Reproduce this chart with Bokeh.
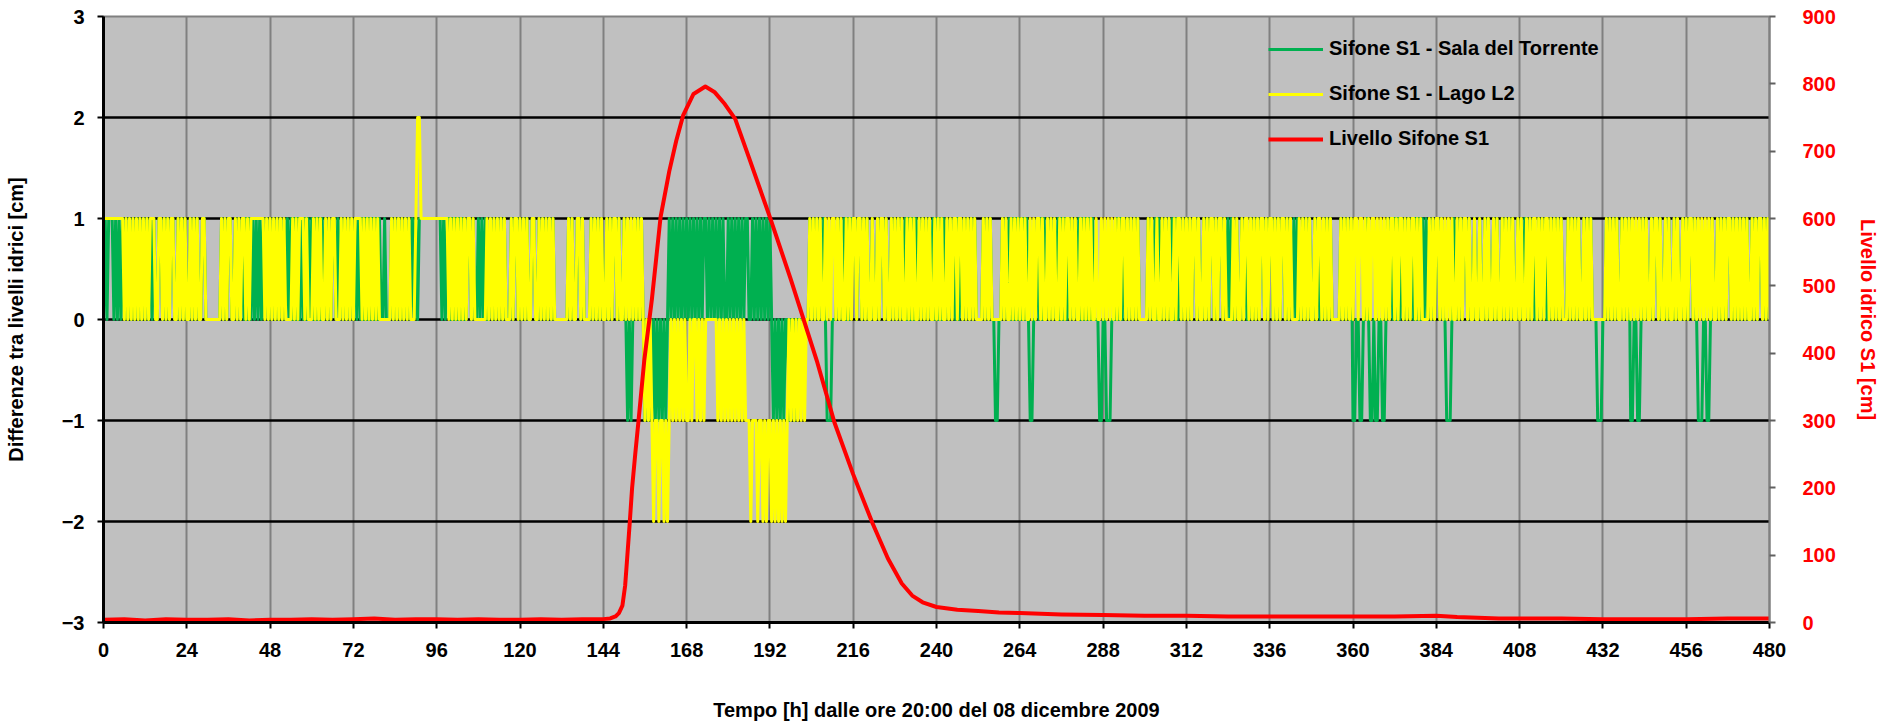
from bokeh.plotting import figure
from bokeh.models import Range1d, LinearAxis, FixedTicker, Legend, LegendItem
from bokeh.embed import file_html
from bokeh.resources import INLINE

FONT = "Liberation Sans"

# ---------------- data ----------------
x_ticks = list(range(0, 481, 24))
left_ticks = [-3, -2, -1, 0, 1, 2, 3]
grid_y = [-2, -1, 0, 1, 2]
right_ticks = list(range(0, 901, 100))

SAMPLE_STEP_H = 0.5          # one character = one reading every 30 minutes
CODE = {"A": -2, "B": -1, "0": 0, "1": 1, "2": 2}

# Sifone S1 - Sala del Torrente (difference, cm), one string per 24 h
sala_torrente = [
    "010111010101" "0101010101010101" "01" "001101" "01011001" "0101",
    "0010" "1010" "0110" "00000000" "1010" "1100" "1010101010" "1010101" "010",
    "1010101010" "1010" "1010" "10" "101" "01" "010101" "01" "0101" "10" "10" "1010101",
    "01010" "10101010101" "001000" "101010101010" "10" "1011" "11111111",
    "1110101" "1010101010" "0110100" "10101" "0" "0101010101" "000" "10110",
    "101010" "011001" "01010101" "00000000" "1010" "0110" "10" "000" "1010101",
    "0010" "101" "10" "10" "01" "0" "B0B0" "101010" "B0B0B0B0B0B0B" "01010101010",
    "1010101010" "11" "0101010101" "00" "1010101010" "1100" "1010101010",
    "1" "0B0B0B0B" "00B00B0" "0000000" "1010101010" "BBB00" "0101010101",
    "1101101010" "0100101101" "0010" "101010101010101010101010",
    "101010101010101010101010" "0001" "01010" "0BB00" "1010101010",
    "101010" "BB00" "10101010101010101010" "101010101010" "1000BB",
    "00BBB00" "01010" "1010101010" "0000" "1010101010101010101010",
    "1010110100" "1010110101" "101" "01010" "0100101" "0" "010101011010",
    "1101010110" "101" "01010" "01010100101" "0" "0101010000" "01010101",
    "BB00BB0" "010" "BB0BB00BB" "0101010101010101010101" "010" "1010",
    "11010" "0BBB0" "10" "10101101" "0010010010" "1001010010" "10101001",
    "010" "1" "10101" "0" "010101" "0" "010" "1010100010" "1010100101" "010" "00BBB",
    "00" "10101010" "010101" "BB00BB0" "1010010" "1101001010" "01010010",
    "1011010" "BBB00BB" "010010" "1010110101" "0101010010" "101101010",
]

# Sifone S1 - Lago L2 (difference, cm), one string per 24 h
lago_l2 = [
    "111111111111" "0101010101010101" "11" "001101" "01011001" "0101",
    "0010" "1010" "0110" "00000000" "1010" "1100" "1010110101" "1111111" "010",
    "1010101010" "0001" "0101" "11" "010" "00" "101010" "01" "0101" "10" "00" "1010101",
    "01111" "01010101010" "000000" "101010101010" "00" "1221" "11111111",
    "1111111" "0101010101" "0110100" "00000" "1" "0101010101" "000" "10110",
    "101010" "011001" "01010101" "00000000" "1010" "0110" "10" "000" "1010101",
    "0010" "101" "10" "10" "01" "01010101010" "B0B0BA" "BBABBAB" "AB0" "B0B0B0B0",
    "BB0B" "00" "B0B0B0" "000000" "B0B0B0B0B0B0B0B0B" "BBABBBABBABAB",
    "BABABABABAB" "0B0B0B0B0B" "00" "10101010" "0" "10101" "1" "01010" "0" "1010",
    "1101101010" "0100101101" "0010101010" "0101010010" "10101001",
    "0101001010" "1101101010" "1010000101" "0100000010" "10010101",
    "0101001010" "1101001010" "1001010110" "1010010101" "01001001",
    "0101010101" "0110101010" "1000001010" "0100101010" "01011010",
    "1010110100" "1010110101" "1010000101" "0010110101" "01011010",
    "1101010110" "1010000101" "0101001011" "0101010000" "01010101",
    "0110110101" "0110101010" "1011010110" "1010110101" "00001010",
    "1101010101" "0010101101" "0010010010" "1001010010" "10101001",
    "0100101011" "0101011010" "1010100010" "1010100101" "01000000",
    "0010101010" "0101010101" "0101010010" "1101001010" "01010010",
    "1011010101" "0101010010" "1010110101" "0101010010" "101101010",
]

# Livello Sifone S1 (cm)
livello_t = [0, 6, 12, 18, 24, 30, 36, 42, 48, 54, 60, 66, 72, 78, 84, 90, 96, 102,
             108, 114, 120, 126, 132, 138, 144, 146, 147.5, 148.5, 149.5, 150.3,
             150.8, 151.6, 152.3, 153.2, 154.1, 155.8, 158, 160.5, 163, 165, 167,
             170, 173.4, 176, 179, 182, 186, 192, 198, 205.5, 210.6, 216, 221.6,
             226, 230, 233, 236, 240, 246, 252, 258, 264, 276, 288, 300, 312, 324,
             336, 348, 360, 372, 384, 390, 396, 402, 408, 420, 432, 444, 456, 468, 480]
livello_cm = [4, 5, 3, 5, 4, 4, 5, 3, 4, 4, 5, 4, 5, 6, 4, 5, 5, 4,
              5, 4, 4, 5, 4, 5, 5, 6, 9, 14, 25, 55,
              90, 147, 200, 250, 297, 389, 480, 602, 670, 715, 753,
              785, 796, 788, 770, 748, 690, 602, 510, 389, 297, 220, 147,
              95, 58, 40, 30, 23, 19, 17, 15, 14, 12, 11, 10, 10, 9,
              9, 9, 9, 9, 10, 8, 7, 6, 6, 6, 5, 5, 5, 6, 6]

x_title = "Tempo [h] dalle ore 20:00 del 08 dicembre 2009"
left_title = "Differenze tra livelli idrici [cm]"
right_title = "Livello idrico S1 [cm]"

lens = [len(s) for s in sala_torrente] + [len(s) for s in lago_l2]
assert all(n == 48 for n in lens[:19]) and lens[19] == 49 and all(n == 48 for n in lens[20:39]) and lens[39] == 49, lens


def decode(segments):
    s = "".join(segments)
    return [SAMPLE_STEP_H * i for i in range(len(s))], [CODE[c] for c in s]


t_g, v_g = decode(sala_torrente)
t_y, v_y = decode(lago_l2)

GREEN = "#00B050"
YELLOW = "#FFFF00"
RED = "#FF0000"

# ---------------- figure ----------------
p = figure(width=1883, height=724, x_range=Range1d(0, 480), y_range=Range1d(-3, 3),
           output_backend="svg", toolbar_location=None,
           min_border_left=103, min_border_right=114, min_border_top=16, min_border_bottom=102,
           background_fill_color="#C0C0C0", border_fill_color="white",
           outline_line_color="#808080", outline_line_width=2)
p.extra_y_ranges = {"lvl": Range1d(0, 900)}

left = p.left[0]
bottom = p.below[0]

bottom.ticker = FixedTicker(ticks=x_ticks)
left.ticker = FixedTicker(ticks=left_ticks)
p.xgrid.ticker = FixedTicker(ticks=x_ticks)
p.ygrid.ticker = FixedTicker(ticks=grid_y)
p.xgrid.grid_line_color = "#808080"
p.xgrid.grid_line_width = 2
p.ygrid.grid_line_color = "black"
p.ygrid.grid_line_width = 2.5

right = LinearAxis(y_range_name="lvl", ticker=FixedTicker(ticks=right_ticks),
                   axis_label=right_title)
p.add_layout(right, "right")
bottom.axis_label = x_title
left.axis_label = left_title

for ax in (bottom, left, right):
    ax.major_label_text_font = FONT
    ax.major_label_text_font_style = "bold"
    ax.major_label_text_font_size = "20px"
    ax.axis_label_text_font = FONT
    ax.axis_label_text_font_style = "bold"
    ax.axis_label_text_font_size = "20px"
    ax.major_tick_in = 0
    ax.major_tick_out = 6
    ax.minor_tick_line_color = None
    ax.major_tick_line_width = 2

for ax in (bottom, left):
    ax.axis_line_color = "black"
    ax.axis_line_width = 3
    ax.major_tick_line_color = "black"
    ax.major_label_text_color = "black"
    ax.axis_label_text_color = "black"

bottom.major_label_standoff = 14
bottom.axis_label_standoff = 39
left.major_label_standoff = 13
left.axis_label_standoff = 32

right.axis_line_color = "#808080"
right.axis_line_width = 2
right.major_tick_line_color = "#606060"
right.major_label_text_color = RED
right.axis_label_text_color = RED
right.major_label_standoff = 27
right.axis_label_standoff = 18

# ---------------- data lines ----------------
r_g = p.line(t_g, v_g, line_color=GREEN, line_width=3, line_join="round")
r_y = p.line(t_y, v_y, line_color=YELLOW, line_width=3, line_join="round")
r_r = p.line(livello_t, livello_cm, line_color=RED, line_width=4, line_join="round",
             y_range_name="lvl")

legend = Legend(items=[
    LegendItem(label="Sifone S1 - Sala del Torrente", renderers=[r_g]),
    LegendItem(label="Sifone S1 - Lago L2", renderers=[r_y]),
    LegendItem(label="Livello Sifone S1", renderers=[r_r]),
], location=(1165, 472))
legend.label_text_font = FONT
legend.label_text_font_style = "bold"
legend.label_text_font_size = "20px"
legend.label_text_color = "black"
legend.glyph_width = 55
legend.glyph_height = 20
legend.label_height = 20
legend.label_standoff = 6
legend.spacing = 22
legend.padding = 0
legend.margin = 0
legend.border_line_alpha = 0
legend.background_fill_alpha = 0
p.add_layout(legend)

open("out.html", "w").write(file_html(p, INLINE))
